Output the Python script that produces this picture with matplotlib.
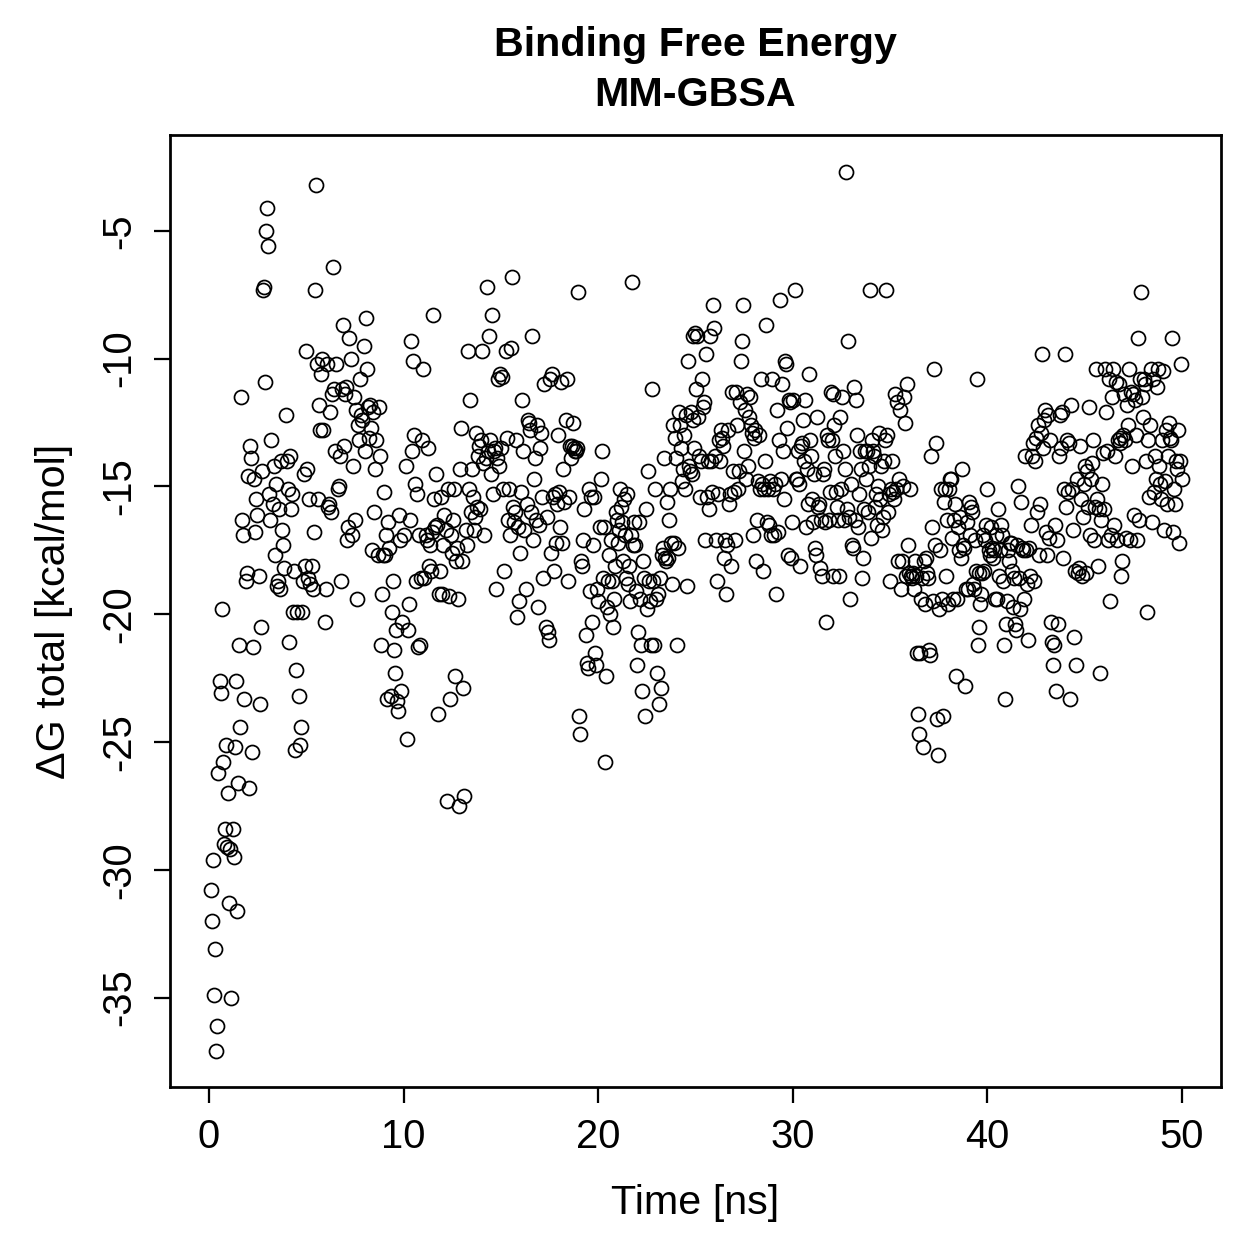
import numpy as np
import matplotlib
matplotlib.use("Agg")
import matplotlib.pyplot as plt

plt.rcParams['font.family'] = ['Liberation Sans', 'DejaVu Sans']

# dG total [kcal/mol] per frame, in 10 ns blocks
dg_00_10 = [
    -30.8, -32.0, -29.6, -34.9, -33.1, -37.1, -36.1, -26.2, -22.6, -23.1, -19.8, -25.8, -29.0, -28.4, -25.1, -29.1, -27.0, -31.3, -29.2,
    -35.0, -28.4, -29.5, -25.2, -22.6, -31.6, -26.6, -21.2, -24.4, -11.5, -16.3, -16.9, -23.3, -18.7, -18.4, -14.6, -26.8,
    -13.4, -13.9, -25.4, -21.3, -14.7, -16.8, -15.5, -16.1, -18.5, -23.5, -20.5, -14.4, -7.3, -7.2, -10.9, -5.0, -4.1, -5.6,
    -15.3, -16.3, -13.2, -15.7, -14.2, -17.7, -14.9, -18.9, -18.7, -15.9, -19.0, -14.0, -16.7, -17.3, -18.2, -12.2, -14.0,
    -15.1, -21.1, -13.8, -15.9, -15.3, -19.9, -18.3, -25.3, -22.2, -19.9, -23.2, -25.1, -24.4, -19.9, -18.7, -14.5, -18.1, -9.7,
    -14.3, -18.6, -15.5, -18.8, -18.1, -19.0, -16.8, -7.3, -3.2, -10.2, -15.5, -11.8, -12.8, -10.6, -10.0, -12.8, -20.3, -19.0,
    -10.2, -15.8, -15.7, -12.1, -16.0, -11.4, -6.4, -11.2, -13.6, -10.2, -15.1, -15.0, -13.8, -18.7, -11.2, -8.7, -13.4,
    -11.4, -11.1, -17.1, -16.6, -9.2, -10.0, -16.9, -14.2, -11.5, -16.3, -12.0, -19.4, -12.6, -13.2, -10.8, -12.2, -12.4, -9.5,
    -13.6, -8.4, -10.4, -11.9, -13.1, -11.8, -12.7, -17.5, -12.1, -16.0, -14.3, -13.2, -17.7, -11.9, -13.8, -21.2, -19.2, -17.7, -15.2,
    -17.7, -16.9, -23.3, -16.4, -17.4, -23.2, -19.9, -18.7, -21.4, -22.3, -20.6, -23.4, -23.8, -16.1, -17.1, -23.0, -20.3, -16.9,
]
dg_10_20 = [
    -14.2, -24.9, -20.6, -19.6, -16.3, -9.3, -13.6, -10.1, -13.0, -14.9, -18.7, -15.3, -21.3, -16.9, -21.2, -18.6, -13.2,
    -10.4, -18.6, -16.9, -17.1, -13.5, -18.1, -17.3, -18.3, -16.8, -8.3, -15.5, -16.6, -14.5, -16.5, -23.9, -19.2, -18.3, -15.4,
    -19.2, -17.3, -16.1, -16.7, -27.3, -15.1, -19.3, -23.3, -16.9, -17.6, -16.3, -15.1, -22.4, -17.9, -17.4, -19.4, -27.5, -14.3,
    -12.7, -17.9, -22.9, -27.1, -16.7, -17.3, -9.7, -15.1, -11.6, -16.0, -14.3, -15.4, -16.7, -16.2, -12.9, -15.8, -13.8, -13.4,
    -15.9, -13.2, -9.7, -14.1, -16.9, -13.9, -7.2, -13.6, -9.1, -13.2, -14.5, -8.3, -15.3, -13.6, -13.5, -19.0, -13.9, -10.8, -14.2,
    -10.6, -13.5, -10.7, -15.1, -18.3, -9.7, -13.1, -16.3, -15.1, -16.9, -9.6, -6.8, -15.8, -16.4, -16.0, -13.2, -20.1, -16.6, -19.5,
    -17.6, -15.2, -11.6, -13.6, -16.7, -19.0, -15.7, -12.4, -12.5, -12.8, -16.0, -9.1, -17.1, -14.7, -13.9, -16.3, -12.6, -19.7,
    -16.5, -13.5, -12.9, -15.4, -18.6, -11.0, -20.5, -16.2, -20.7, -21.0, -10.8, -17.6, -10.6, -15.4, -18.3, -15.3, -17.2, -15.7,
    -13.0, -15.2, -16.6, -10.9, -17.2, -14.3, -15.6, -12.4, -10.8, -18.7, -15.4, -13.4, -13.9, -13.4, -12.5, -13.5, -13.6, -13.6, -13.5,
    -7.4, -24.0, -24.7, -17.9, -18.1, -17.1, -15.9, -20.8, -21.9, -22.1, -15.1, -19.1, -15.4, -20.3, -17.3, -15.4, -21.5, -22.0, -19.0, -19.5,
]
dg_20_30 = [
    -16.6, -14.7, -13.6, -18.6, -16.6, -25.8, -22.4, -19.7, -18.7, -17.7, -20.0, -17.1, -18.7, -20.5, -19.4, -18.1, -16.0, -16.3, -17.2, -16.7,
    -15.1, -15.8, -16.4, -17.9, -15.5, -16.9, -18.6, -15.3, -18.8, -18.1, -19.5, -16.9, -7.0, -17.3, -16.4, -17.3, -19.1, -22.0, -20.7,
    -16.4, -19.4, -21.2, -23.0, -17.9, -18.6, -24.0, -15.9, -19.8, -14.4, -18.7, -19.5, -21.2, -11.2, -18.7, -21.2, -15.1, -19.4, -22.3, -19.2,
    -23.5, -18.6, -22.9, -17.7, -17.4, -13.9, -17.8, -17.9, -15.6, -17.8, -16.3, -15.1, -17.2, -18.8, -12.6, -17.2, -13.1, -13.9,
    -21.2, -17.4, -12.1, -12.6, -13.5, -14.8, -14.3, -13.0, -15.1, -12.2, -18.9, -10.1, -14.2, -14.4, -12.1, -14.5, -9.1, -12.4, -13.5,
    -9.0, -11.2, -9.1, -12.3, -13.8, -15.4, -14.0, -10.8, -11.9, -11.7, -17.1, -9.8, -15.4, -14.0, -15.9, -9.1, -14.0, -15.2, -7.9, -8.8,
    -13.8, -17.1, -18.7, -15.3, -13.2, -14.0, -12.8, -13.1, -13.4, -17.8, -17.1, -19.2, -17.3, -12.8, -15.7, -15.3, -18.1, -11.3, -14.4, -15.2,
    -17.1, -11.3, -12.6, -15.1, -14.4, -11.7, -10.1, -9.3, -7.9, -13.6, -12.0, -14.7, -11.4, -14.2, -12.3, -11.5, -12.6, -12.9, -16.9,
    -13.1, -12.8, -17.9, -16.3, -14.8, -13.0, -15.1, -10.8, -14.9, -18.3, -15.1, -14.0, -8.7, -16.4, -15.1, -16.5, -14.8, -16.9, -10.8, -15.1,
    -16.9, -14.9, -19.2, -12.0, -16.8, -13.2, -7.7, -14.7, -11.0, -13.6, -15.5, -10.1, -10.2, -12.7, -17.7, -11.6, -11.7, -17.8, -16.4, -11.6,
]
dg_30_40 = [
    -7.3, -14.7, -14.7, -13.6, -14.9, -18.1, -13.4, -13.3, -12.4, -14.0, -11.6, -16.6, -14.3, -15.7, -10.6, -13.2, -13.8, -15.5, -16.4,
    -14.5, -17.4, -17.7, -12.3, -15.8, -15.7, -18.2, -16.3, -18.5, -14.5, -14.3, -16.4, -20.3, -13.0, -13.2, -16.3, -15.2, -11.3, -13.2, -11.4,
    -18.5, -12.6, -13.8, -15.2, -15.8, -16.3, -18.5, -12.3, -15.1, -11.5, -13.6, -16.3, -14.3, -2.7, -15.9, -9.3, -16.2, -19.4, -14.9,
    -17.3, -17.4, -11.1, -16.3, -11.6, -13.0, -16.6, -15.3, -13.6, -14.3, -18.6, -17.8, -15.9, -13.6, -14.7, -13.6, -16.0, -14.2, -7.3, -17.0,
    -13.2, -13.6, -13.8, -15.8, -15.3, -16.5, -15.0, -12.9, -15.5, -14.2, -16.7, -16.2, -14.0, -13.2, -7.3, -13.0, -16.0, -15.3, -18.7,
    -15.1, -14.0, -15.2, -15.5, -11.4, -15.1, -11.7, -17.9, -14.7, -12.0, -19.0, -17.9, -15.0, -11.5, -12.5, -18.5, -11.0, -17.3, -18.4, -15.1,
    -18.5, -18.6, -18.4, -19.0, -17.9, -18.5, -21.5, -23.9, -24.7, -21.5, -19.4, -18.6, -25.2, -17.9, -19.6, -17.8, -18.4, -18.6, -21.4,
    -21.6, -13.8, -16.6, -19.5, -10.4, -17.3, -13.3, -24.1, -25.5, -19.8, -17.5, -15.1, -19.4, -24.0, -15.6, -15.1, -18.5, -16.3, -19.6, -15.1,
    -14.7, -14.7, -17.0, -19.4, -16.3, -15.7, -22.4, -19.4, -16.6, -17.5, -16.2, -17.8, -14.3, -17.3, -17.4, -22.8, -19.0, -16.4, -19.0,
    -15.6, -16.9, -15.8, -16.0, -18.8, -19.0, -17.1, -18.3, -10.8, -21.2, -20.5, -18.4, -19.6, -19.2, -18.4, -16.9, -18.3, -17.1, -16.5, -15.1,
]
dg_40_50 = [
    -17.5, -17.7, -16.6, -17.4, -17.8, -17.5, -19.4, -16.9, -19.4, -15.9, -18.5, -17.5, -16.5, -16.9, -18.7, -21.2, -23.3, -20.4, -19.5,
    -17.5, -17.9, -17.2, -17.2, -18.3, -19.7, -18.6, -20.4, -20.6, -17.3, -15.0, -18.6, -19.8, -15.6, -17.4, -17.5, -19.4, -13.8, -17.5, -18.8,
    -21.0, -17.4, -18.5, -16.5, -13.8, -13.3, -18.7, -14.0, -13.1, -16.0, -12.6, -17.7, -15.7, -12.9, -9.8, -13.5, -12.4, -12.0, -16.8,
    -17.7, -12.2, -17.0, -13.2, -20.3, -21.1, -22.0, -21.2, -16.5, -23.0, -17.1, -20.4, -13.8, -12.2, -13.5, -12.1, -17.8, -15.1, -9.8, -15.8,
    -13.2, -15.2, -13.3, -23.3, -11.8, -15.1, -16.7, -20.9, -18.3, -22.0, -14.7, -18.4, -18.2, -13.4, -15.5, -18.5, -16.2, -14.9, -14.2,
    -18.4, -14.4, -15.8, -11.9, -16.9, -14.7, -14.1, -13.2, -17.1, -15.8, -10.4, -15.5, -18.1, -15.9, -22.3, -16.3, -14.9, -13.7, -15.9, -10.4,
    -12.1, -13.6, -17.1, -10.8, -19.5, -16.9, -11.5, -10.4, -16.5, -13.8, -10.9, -17.1, -13.2, -11.0, -13.3, -13.1, -18.5, -17.9, -13.0,
    -11.4, -13.2, -17.0, -11.8, -12.6, -10.4, -17.1, -11.3, -14.2, -11.4, -16.1, -11.6, -13.0, -17.1, -9.2, -16.3, -10.8, -7.4, -11.5, -12.3,
    -10.8, -11.0, -14.0, -19.9, -13.2, -15.4, -12.6, -10.4, -16.4, -10.8, -15.2, -13.8, -14.7, -11.1, -10.4, -14.2, -14.9, -15.5, -13.2,
    -10.5, -16.7, -14.8, -12.8, -15.7, -13.8, -12.5, -13.1, -13.2, -9.2, -16.8, -15.1, -15.7, -14.0, -14.3, -12.8, -17.2, -14.0, -10.2, -14.7,
]

blocks = [dg_00_10, dg_10_20, dg_20_30, dg_30_40, dg_40_50]
x_ticks = [0, 10, 20, 30, 40, 50]
y_ticks = [-35, -30, -25, -20, -15, -10, -5]

# frame times: each 10 ns block holds its frames evenly spaced
time = np.concatenate([np.linspace(10 * i + 0.1, 10 * (i + 1), len(b)) for i, b in enumerate(blocks)])
dg = np.concatenate(blocks)

fig = plt.figure(figsize=(1259 / 180, 1259 / 180), dpi=180)
ax = fig.add_axes([170 / 1259, 1 - 1087 / 1259, (1221 - 170) / 1259, (1087 - 135) / 1259])

ax.plot(time, dg, linestyle='none', marker='o', markersize=5.6,
        markerfacecolor='none', markeredgecolor='black', markeredgewidth=0.7)

ax.set_xlim(-2, 52)
ax.set_ylim(-38.5, -1.25)
ax.set_xticks(x_ticks)
ax.set_yticks(y_ticks)
ax.set_yticklabels([str(v) for v in y_ticks], rotation=90, va='center')
ax.tick_params(direction='out', length=6.5, width=0.9, labelsize=16, pad=6)
for s in ax.spines.values():
    s.set_linewidth(1.1)

ax.set_xlabel('Time [ns]', fontsize=16.5, labelpad=11)
ax.set_ylabel('ΔG total [kcal/mol]', fontsize=16.5, labelpad=24)
ax.yaxis.set_label_coords(-97 / 1051, 0.5)

# title centred over the plot region, as R does
xc = (170 + 1221) / 2 / 1259
fig.text(xc, 1 - 45 / 1259, 'Binding Free Energy', ha='center', va='center', fontsize=16.5, fontweight='bold')
fig.text(xc, 1 - 95 / 1259, 'MM-GBSA', ha='center', va='center', fontsize=16.5, fontweight='bold')

fig.savefig('out.png', dpi=180)
